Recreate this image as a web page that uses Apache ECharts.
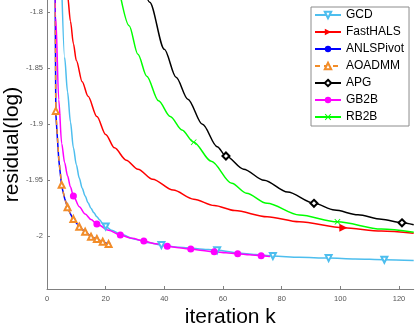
<!DOCTYPE html>
<html>
<head>
<meta charset="utf-8">
<script src="https://cdn.jsdelivr.net/npm/echarts@6/dist/echarts.min.js"></script>
<style>
  html, body { margin: 0; padding: 0; background: #fff; }
  #chart { width: 415px; height: 326px; }
</style>
</head>
<body>
<div id="chart"></div>
<script>
// ---------------------------------------------------
// Data
// ---------------------------------------------------
const xTicks = [0, 20, 40, 60, 80, 100, 120];
const yTicks = [-2, -1.95, -1.9, -1.85, -1.8];

const gcdK = [5, 6, 7, 8, 9, 10, 11, 12, 13, 14, 15, 16, 17, 18, 19, 20, 22, 25, 30, 35, 39, 45, 52, 58, 65, 71, 77, 86, 96, 105, 115, 125];
const gcdV = [-1.775, -1.840, -1.871, -1.898, -1.921, -1.936, -1.948, -1.957, -1.964, -1.970, -1.975, -1.979, -1.9825, -1.9855, -1.9885, -1.9912,
  -1.9945, -1.998, -2.0025, -2.0058, -2.0078, -2.0098, -2.0112, -2.0124, -2.0148, -2.0163, -2.0176, -2.0186, -2.0194, -2.0202, -2.0209, -2.0215];
const gcdMarks = [20, 39, 58, 77, 96, 115];

const halsK = [6, 7, 8, 9, 10, 12, 14, 17, 20, 23, 27, 31, 36, 43, 50, 57, 64, 75, 86, 101, 114, 125];
const halsV = [-1.760, -1.785, -1.808, -1.828, -1.843, -1.862, -1.875, -1.893, -1.909, -1.921, -1.932, -1.940, -1.949, -1.9587, -1.9668,
  -1.9725, -1.977, -1.9825, -1.987, -1.9923, -1.9953, -1.9972];
const halsMarks = [101];

const anlsK = [2, 3, 4, 5, 6, 7, 8, 9, 10, 11, 12, 13, 14, 15, 16, 17, 18, 19, 20, 21];
const anlsV = [-1.39, -1.890, -1.931, -1.955, -1.966, -1.974, -1.980, -1.9848, -1.988, -1.9915, -1.9938, -1.996, -1.998, -2.0004, -2.0014,
  -2.0025, -2.0036, -2.0048, -2.0058, -2.0069];
const anlsMarks = [3, 5, 7, 9, 11, 13, 15, 17, 19, 21];

const aoK = [2, 3, 4, 5, 6, 7, 8, 9, 10, 11, 12, 13, 14, 15, 16, 17, 18, 19, 20, 21];
const aoV = [-1.39, -1.888, -1.930, -1.954, -1.966, -1.974, -1.980, -1.9846, -1.988, -1.9914, -1.9938, -1.9959, -1.998, -2.0003, -2.0014,
  -2.0024, -2.0036, -2.0048, -2.0058, -2.0069];
const aoMarks = [3, 5, 7, 9, 11, 13, 15, 17, 19, 21];

const apgK = [31, 35, 40, 44, 48, 53, 58, 61, 67, 74, 82, 91, 98, 106, 114, 121, 125];
const apgV = [-1.752, -1.791, -1.833, -1.858, -1.8775, -1.900, -1.920, -1.9283, -1.940, -1.950, -1.9605, -1.9705, -1.9765, -1.9808,
  -1.9848, -1.9879, -1.9897];
const apgMarks = [61, 91, 121];

const gb2bK = [2, 3, 4, 5, 6, 7, 8, 9, 11, 13, 15, 17, 21, 25, 29, 33, 37, 41, 45, 49, 53, 57, 61, 65, 69, 73, 76];
const gb2bV = [-1.64, -1.805, -1.878, -1.917, -1.934, -1.946, -1.956, -1.964, -1.9735, -1.980, -1.985, -1.989, -1.9945, -1.9988, -2.0018,
  -2.0042, -2.0067, -2.0089, -2.0102, -2.0113, -2.0126, -2.0138, -2.0147, -2.0156, -2.0165, -2.0173, -2.0179];
const gb2bMarks = [9, 17, 25, 33, 41, 49, 57, 65, 73];

const rb2bK = [25, 28, 31, 34, 38, 42, 46, 50, 56, 63, 68, 75, 86, 99, 114, 125];
const rb2bV = [-1.785, -1.812, -1.8375, -1.857, -1.879, -1.893, -1.905, -1.916, -1.933, -1.9527, -1.9615, -1.9705, -1.981, -1.987,
  -1.9935, -1.9964];
const rb2bMarks = [50, 99];

// ---------------------------------------------------
// Helpers
// ---------------------------------------------------
function buildData(ks, vs, marks) {
  return ks.map((k, i) =>
    marks.includes(k) ? [k, vs[i]] : { value: [k, vs[i]], symbol: "none" }
  );
}

function lineSeries(name, color, data, extra) {
  return Object.assign({
    name: name,
    type: "line",
    data: data,
    showAllSymbol: true,
    smooth: 0.3,
    smoothMonotone: "x",
    color: color,
    lineStyle: { color: color, width: 1.5 },
    itemStyle: { color: color },
    emphasis: { disabled: true },
    animation: false
  }, extra);
}

const FONT = "'Liberation Sans', Arial, sans-serif";
const crossPath = "path://M0,1L1,0L5,4L9,0L10,1L6,5L10,9L9,10L5,6L1,10L0,9L4,5Z";

// ---------------------------------------------------
// Chart
// ---------------------------------------------------
const chart = echarts.init(document.getElementById("chart"));

chart.setOption({
  backgroundColor: "#fff",
  animation: false,
  grid: {
    left: 47, top: 0, width: 366.7, height: 289,
    containLabel: false,
    outerBoundsMode: "none"
  },
  legend: {
    orient: "vertical",
    left: 311,
    top: 7,
    padding: [2, 5, 3, 3],
    itemWidth: 26,
    itemHeight: 8,
    itemGap: 5,
    borderColor: "#8c8c8c",
    borderWidth: 1,
    backgroundColor: "#fff",
    textStyle: { fontFamily: FONT, fontSize: 12, color: "#000" },
    data: ["GCD", "FastHALS", "ANLSPivot", "AOADMM", "APG", "GB2B", "RB2B"]
  },
  xAxis: {
    type: "value",
    min: 0,
    max: 125,
    name: "iteration k",
    nameLocation: "middle",
    nameGap: 18,
    nameMoveOverlap: false,
    nameTextStyle: { fontFamily: FONT, fontSize: 21, color: "#000" },
    axisLine: { show: true, onZero: false, lineStyle: { color: "#808080" } },
    axisTick: { show: true, inside: true, length: 3, customValues: xTicks, lineStyle: { color: "#808080" } },
    axisLabel: { customValues: xTicks, margin: 6, fontFamily: FONT, fontSize: 7.5, color: "#555" },
    splitLine: { show: false }
  },
  yAxis: {
    type: "value",
    min: -2.047,
    max: -1.789,
    name: "residual(log)",
    nameLocation: "middle",
    nameRotate: 90,
    nameGap: 24,
    nameMoveOverlap: false,
    nameTextStyle: { fontFamily: FONT, fontSize: 21, color: "#000" },
    axisLine: { show: true, onZero: false, lineStyle: { color: "#808080" } },
    axisTick: { show: true, inside: true, length: 3, customValues: yTicks, lineStyle: { color: "#808080" } },
    axisLabel: { customValues: yTicks, margin: 4, fontFamily: FONT, fontSize: 7.5, color: "#555" },
    splitLine: { show: false }
  },
  series: [
    lineSeries("GCD", "#4DBEEE", buildData(gcdK, gcdV, gcdMarks), {
      symbol: "emptyTriangle", symbolRotate: 180, symbolSize: 6
    }),
    lineSeries("FastHALS", "#FF0000", buildData(halsK, halsV, halsMarks), {
      symbol: "triangle", symbolRotate: -90, symbolSize: 8
    }),
    lineSeries("ANLSPivot", "#0000FF", buildData(anlsK, anlsV, anlsMarks), {
      symbol: "circle", symbolSize: 4, smooth: false
    }),
    lineSeries("AOADMM", "#F28C28", buildData(aoK, aoV, aoMarks), {
      symbol: "emptyTriangle", symbolSize: 6, smooth: false,
      itemStyle: { color: "#F28C28", borderWidth: 1.2 },
      lineStyle: { color: "#F28C28", width: 1.5, type: [5, 4] }
    }),
    lineSeries("APG", "#000000", buildData(apgK, apgV, apgMarks), {
      symbol: "emptyDiamond", symbolSize: 7,
      itemStyle: { color: "#000000", borderWidth: 1.2 }
    }),
    lineSeries("GB2B", "#FF00FF", buildData(gb2bK, gb2bV, gb2bMarks), {
      symbol: "circle", symbolSize: 7
    }),
    lineSeries("RB2B", "#00FF00", buildData(rb2bK, rb2bV, rb2bMarks), {
      symbol: crossPath, symbolSize: 6
    })
  ]
});

window.addEventListener("resize", chart.resize);
</script>
</body>
</html>
